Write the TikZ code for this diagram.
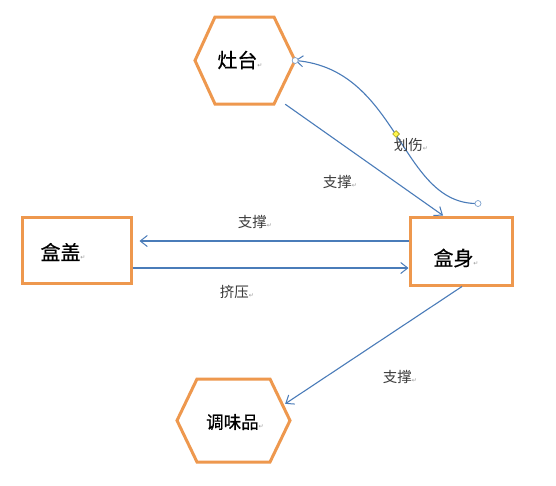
\documentclass[tikz,border=0pt]{standalone}
\usepackage{fontspec}
\usetikzlibrary{arrows.meta,shapes.geometric}
\newfontfamily\cjk{Noto Sans CJK SC}
\newfontfamily\cjkb[FakeBold=0.6]{Noto Sans CJK SC}
\newfontfamily\dvs{DejaVu Sans}
\definecolor{boxorange}{RGB}{238,152,78}
\definecolor{linkblue}{RGB}{74,124,185}
\definecolor{labgray}{RGB}{60,60,60}
\newcommand\retmark{{\dvs\fontsize{6}{6}\selectfont\color{gray!80}↵}}
\tikzset{
  shapebox/.style={draw=none,rectangle,inner sep=0pt},
  frame/.style={draw=boxorange,line width=3pt,line join=miter},
  nodetext/.style={font=\cjkb\fontsize{20}{22}\selectfont,inner sep=0pt,text=black},
  linktext/.style={font=\cjk\fontsize{14.5}{16}\selectfont,inner sep=0pt,text=labgray},
  link/.style={draw=linkblue,line width=1.1pt,-{Straight Barb[length=7pt,width=11pt,line width=1pt]}},
  handle/.style={circle,draw=linkblue!70,fill=white,line width=0.7pt,minimum size=6pt,inner sep=0pt},
  ymark/.style={diamond,draw=olive,fill=yellow!70,line width=0.5pt,minimum size=7pt,inner sep=0pt}
}
\begin{document}
\begin{tikzpicture}[x=1pt,y=-1pt]
\useasboundingbox[fill=white] (0,0) rectangle (556,485);
% shape nodes (bounding boxes)
\node[shapebox,minimum width=100pt,minimum height=87pt] (zt) at (245,60.5) {};
\node[shapebox,minimum width=113pt,minimum height=83pt] (tw) at (233.5,420.5) {};
\node[shapebox,frame,minimum width=109pt,minimum height=66pt] (hg) at (76.5,250) {};
\node[shapebox,frame,minimum width=102pt,minimum height=68pt] (hs) at (461,251) {};
% hexagon outlines
\draw[frame] (215,17) -- (274,17) -- (295,60.5) -- (274,104) -- (215,104) -- (195,60.5) -- cycle;
\draw[frame] (197,379) -- (270,379) -- (290,420.5) -- (270,462) -- (197,462) -- (177,420.5) -- cycle;
% node texts
\node[nodetext] (tzt) at (240,60) {灶台\retmark};
\node[nodetext] (thg) at (63,252) {盒盖\retmark};
\node[nodetext] (ths) at (456,258) {盒身\retmark};
\node[nodetext,font=\cjkb\fontsize{17.5}{20}\selectfont] (ttw) at (235,422) {调味品\retmark};
% connectors
\draw[link] ([xshift=-10pt]zt.south east) -- ([xshift=-18pt]hs.north);
\draw[link] ([yshift=10pt]hs.west) -- ([xshift=7pt,yshift=9pt]hg.east);
\draw[link] ([yshift=-18pt]hg.east) -- ([yshift=-17pt]hs.west);
\draw[link] ([xshift=1pt]hs.south) -- ([xshift=-5pt,yshift=-25pt]tw.north east);
\coordinate (cs) at ([xshift=17pt,yshift=12pt]hs.north);
\draw[link] (cs) .. controls (400,205) and (400,70) .. (zt.east);
% selection handles
\node[handle] (h1) at (cs) {};
\node[handle] (h2) at (zt.east) {};
\node[ymark] (h3) at (396,134) {};
% link labels
\node[linktext] (l1) at (340,182) {支撑\retmark};
\node[linktext] (l2) at (411,145) {划伤\retmark};
\node[linktext] (l3) at (255,222) {支撑\retmark};
\node[linktext] (l4) at (237,292) {挤压\retmark};
\node[linktext] (l5) at (400,377) {支撑\retmark};
\end{tikzpicture}
\end{document}
